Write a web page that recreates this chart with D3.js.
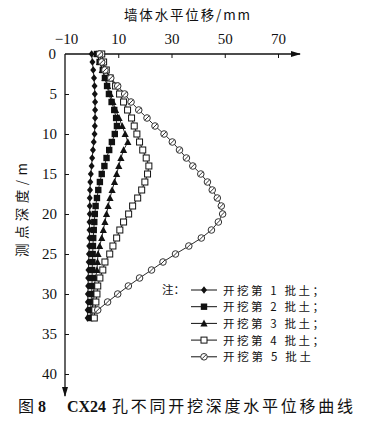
<!DOCTYPE html>
<html>
<head>
<meta charset="utf-8">
<script src="https://cdn.jsdelivr.net/npm/d3@7"></script>
<style>
  body { margin: 0; background: #fff; }
  svg { display: block; }
</style>
</head>
<body>
<svg></svg>
<script>
let width = 371
let height = 440

// depth of measuring points (m)
let depths = [0,1,2,3,4,5,6,7,8,9,10,11,12,13,14,15,16,17,18,19,20,21,22,23,24,25,26,27,28,29,30,31,32,33]

// horizontal displacement (mm) for each excavation stage
let stage1 = [0,0.3,0.6,0.9,1.1,1.2,1.3,1.3,1.3,1.2,1.1,0.8,0.5,0.2,0,-0.3,-0.5,-0.6,-0.7,-0.7,-0.7,-0.8,-0.8,-0.8,-0.9,-1,-1.1,-1.2,-1.3,-1.3,-1.4,-1.4,-1.5,-1.5]
let stage2 = [2,3,4.2,5,5.8,6.5,7.5,8.5,9.2,9.5,8.7,7.6,6.6,5.6,4.8,3.8,3.1,2.5,2,1.5,1.2,1,0.8,0.6,0.5,0.4,0.3,0.2,0.2,0.1,0,-0.2,-0.4,-0.6]
let stage3 = [2,3,4,5,6,7,8,9,10.3,11.5,12.6,13.6,12,11,10.2,9.4,8.6,7.7,6.9,6.2,5.6,5,4.4,3.8,3,2.4,2.2,2,1.5,1,0.6,0.4,0.2,0]
let stage4 = [3.8,4.5,5.5,7,9,10.5,12,13.5,15,16,17,18,19.2,20.5,21.5,21,20,18.8,17.3,15.4,13.9,12,10.6,9.4,8,6.8,5,4.2,3.1,2.3,2,1.6,1.2,1]
let stage5 = [3,3.8,5,7.2,9.8,12.4,14.8,17.7,20.8,23.8,27.2,30.3,33,35.6,38,41,43.5,45.3,47.2,48.7,49.2,47.6,45,41.2,36.5,31.5,26.8,22.5,18,13.8,9.8,6,2.3]

let xTicks = [-10, 10, 30, 50, 70]
let yTicks = [0, 5, 10, 15, 20, 25, 30, 35, 40]
let legendLabels = ['开挖第 1 批土；', '开挖第 2 批土；', '开挖第 3 批土；', '开挖第 4 批土；', '开挖第 5 批土']
let symbols = ['diamond', 'square', 'triangle', 'opensquare', 'circle']
let seriesList = [stage1, stage2, stage3, stage4, stage5]

let serif = '"Liberation Serif", "DejaVu Serif", serif'
let cjk = '"Noto Sans CJK SC", "Liberation Serif", serif'

let svg = d3.select('svg')
    .attr('width', width)
    .attr('height', height)

let xScale = d3.scaleLinear().domain([-10, 70]).range([65, 278])
let yScale = d3.scaleLinear().domain([0, 40]).range([54, 374])

let ink = '#111'

// arrow heads
let defs = svg.append('defs')
defs.append('marker')
    .attr('id', 'arrow')
    .attr('viewBox', '0 0 10 6')
    .attr('refX', 9).attr('refY', 3)
    .attr('markerWidth', 10).attr('markerHeight', 6)
    .attr('markerUnits', 'userSpaceOnUse')
    .attr('orient', 'auto')
    .append('path')
    .attr('d', 'M0,0 L10,3 L0,6 Z')
    .attr('fill', ink)

// x axis on top
let xAxis = d3.axisTop(xScale).tickValues(xTicks).tickSize(-4).tickSizeOuter(0).tickPadding(10)
let gx = svg.append('g')
    .attr('transform', 'translate(0,' + yScale(0) + ')')
    .call(xAxis)
gx.select('.domain').remove()
gx.selectAll('.tick line').attr('stroke', ink)
gx.selectAll('.tick text')
    .attr('font-family', serif).attr('font-size', 15).attr('fill', ink)
    .text(d => d < 0 ? '\u2212' + Math.abs(d) : d)
gx.selectAll('.tick').filter(d => d === -10).select('line').remove()
gx.selectAll('.tick').filter(d => d === -10).select('text').attr('dx', 1)

svg.append('line')
    .attr('x1', xScale(-10)).attr('x2', 300)
    .attr('y1', yScale(0)).attr('y2', yScale(0))
    .attr('stroke', ink).attr('stroke-width', 1.3)
    .attr('marker-end', 'url(#arrow)')

// y axis on left
let yAxis = d3.axisLeft(yScale).tickValues(yTicks).tickSize(-4).tickSizeOuter(0).tickPadding(8)
let gy = svg.append('g')
    .attr('transform', 'translate(' + xScale(-10) + ',0)')
    .call(yAxis)
gy.select('.domain').remove()
gy.selectAll('.tick line').attr('stroke', ink)
gy.selectAll('.tick text')
    .attr('font-family', serif).attr('font-size', 15).attr('fill', ink)
gy.selectAll('.tick').filter(d => d === 0).select('line').remove()
gy.selectAll('.tick').filter(d => d === 0).select('text').attr('dx', -1)

svg.append('line')
    .attr('x1', xScale(-10)).attr('x2', xScale(-10))
    .attr('y1', yScale(0)).attr('y2', 396)
    .attr('stroke', ink).attr('stroke-width', 1.3)
    .attr('marker-end', 'url(#arrow)')

// axis titles
svg.append('text')
    .attr('x', 124).attr('y', 20)
    .attr('font-family', cjk).attr('font-size', 13.5).attr('fill', ink)
    .attr('textLength', 126).attr('lengthAdjust', 'spacing')
    .text('墙体水平位移/mm')

svg.append('text')
    .attr('transform', 'translate(27,257) rotate(-90)')
    .attr('font-family', cjk).attr('font-size', 13.5).attr('fill', ink)
    .attr('textLength', 94).attr('lengthAdjust', 'spacing')
    .text('测点深度/m')

// markers
let drawSymbol = (g, kind, cx, cy) => {
    if (kind === 'diamond') {
        g.append('path')
            .attr('d', 'M' + cx + ',' + (cy - 3.8) + 'L' + (cx + 3) + ',' + cy + 'L' + cx + ',' + (cy + 3.8) + 'L' + (cx - 3) + ',' + cy + 'Z')
            .attr('fill', ink)
    } else if (kind === 'square') {
        g.append('rect')
            .attr('x', cx - 3.2).attr('y', cy - 3.2).attr('width', 6.4).attr('height', 6.4)
            .attr('fill', ink)
    } else if (kind === 'triangle') {
        g.append('path')
            .attr('d', 'M' + cx + ',' + (cy - 3.8) + 'L' + (cx + 3.6) + ',' + (cy + 3) + 'L' + (cx - 3.6) + ',' + (cy + 3) + 'Z')
            .attr('fill', ink)
    } else if (kind === 'opensquare') {
        g.append('rect')
            .attr('x', cx - 3).attr('y', cy - 3).attr('width', 6).attr('height', 6)
            .attr('fill', '#fff').attr('stroke', ink).attr('stroke-width', 1)
    } else {
        g.append('circle')
            .attr('cx', cx).attr('cy', cy).attr('r', 3.3)
            .attr('fill', '#fff').attr('stroke', '#333').attr('stroke-width', 1)
        g.append('line')
            .attr('x1', cx - 2).attr('y1', cy + 2).attr('x2', cx + 2).attr('y2', cy - 2)
            .attr('stroke', '#333').attr('stroke-width', 1)
    }
}

let line = d3.line()
    .x(d => xScale(d[1]))
    .y(d => yScale(d[0]))

seriesList.forEach((values, i) => {
    let pts = values.map((v, j) => [depths[j], v])
    let g = svg.append('g')
    g.append('path')
        .attr('d', line(pts))
        .attr('fill', 'none')
        .attr('stroke', ink)
        .attr('stroke-width', 0.9)
    pts.forEach(p => drawSymbol(g, symbols[i], xScale(p[1]), yScale(p[0])))
})

// legend
let legend = svg.append('g')
legend.append('text')
    .attr('x', 162).attr('y', 294)
    .attr('font-family', cjk).attr('font-size', 11.5).attr('fill', ink)
    .text('注：')
legendLabels.forEach((label, i) => {
    let ly = 290 + i * 16.7
    legend.append('line')
        .attr('x1', 191).attr('x2', 217)
        .attr('y1', ly).attr('y2', ly)
        .attr('stroke', ink).attr('stroke-width', 1)
    drawSymbol(legend, symbols[i], 204, ly)
    legend.append('text')
        .attr('x', 223).attr('y', ly + 4.5)
        .attr('font-family', cjk).attr('font-size', 11.5).attr('fill', ink)
        .attr('textLength', i < 4 ? 101 : 88).attr('lengthAdjust', 'spacing')
        .text(label)
})

// caption
let cap = svg.append('text')
    .attr('y', 412)
    .attr('font-size', 16).attr('fill', ink)
cap.append('tspan').attr('x', 18).attr('font-family', cjk).text('图')
cap.append('tspan').attr('x', 38).attr('font-family', serif).attr('font-weight', 'bold').text('8')
cap.append('tspan').attr('x', 67).attr('font-family', serif).attr('font-weight', 'bold').text('CX24')
cap.append('tspan').attr('x', 112).attr('font-family', cjk)
    .attr('textLength', 241).attr('lengthAdjust', 'spacing')
    .text('孔不同开挖深度水平位移曲线')
</script>
</body>
</html>
